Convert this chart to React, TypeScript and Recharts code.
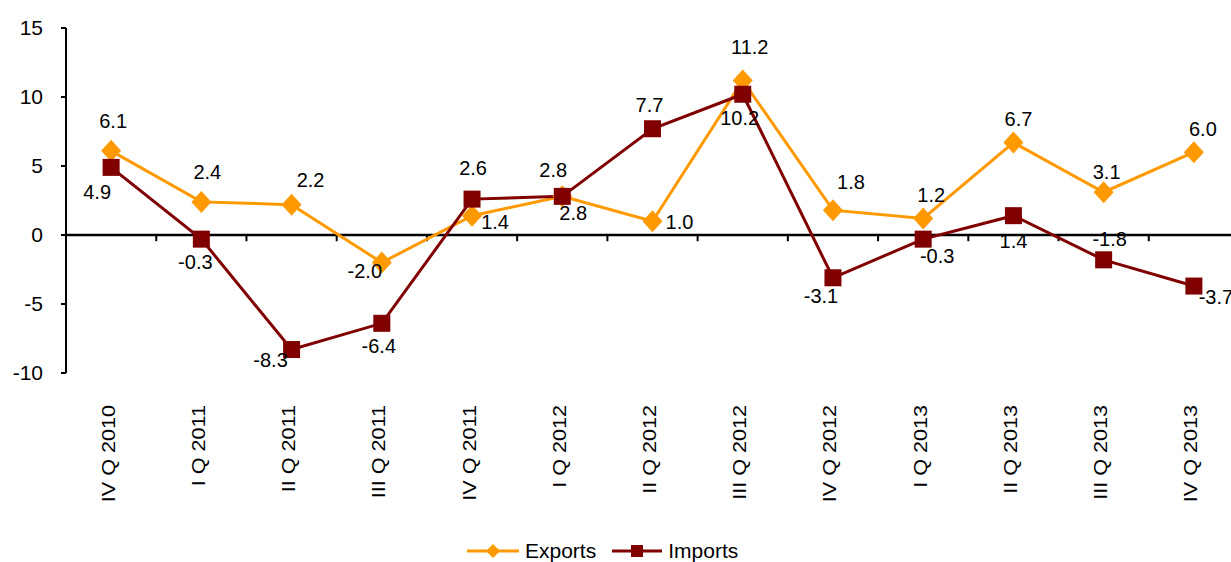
import React from "react";
import { LineChart, Line, XAxis, YAxis, ReferenceLine, LabelList, Legend } from "recharts";

const categories = [
  "IV Q 2010", "I Q 2011", "II Q 2011", "III Q 2011", "IV Q 2011", "I Q 2012",
  "II Q 2012", "III Q 2012", "IV Q 2012", "I Q 2013", "II Q 2013", "III Q 2013", "IV Q 2013",
];
const exportsValues = [6.1, 2.4, 2.2, -2.0, 1.4, 2.8, 1.0, 11.2, 1.8, 1.2, 6.7, 3.1, 6.0];
const importsValues = [4.9, -0.3, -8.3, -6.4, 2.6, 2.8, 7.7, 10.2, -3.1, -0.3, 1.4, -1.8, -3.7];
const yTicks = [-10, -5, 0, 5, 10, 15];

// label placement offsets (px) relative to each marker, style only
const exportsLabelOffsets = [[2, -30], [6, -30], [19, -25], [-17, 8], [23, 6], [11, 17], [27, 1], [7, -33], [18, -28], [8, -23], [5, -24], [3, -20], [9, -23]];
const importsLabelOffsets = [[-14, 25], [-6, 23], [-21, 10], [-3, 23], [1, -31], [-9, -26], [-3, -24], [-3, 24], [-12, 18], [14, 17], [0, 25], [6, -21], [22, 11]];

const data = categories.map((c, i) => ({ idx: i, name: c, Exports: exportsValues[i], Imports: importsValues[i] }));
const xTicks = categories.map((_, i) => i);
const boundaries = categories.slice(0, -1).map((_, i) => i + 0.5);

const ORANGE = "#FF9900";
const MAROON = "#800000";
const FONT = "'Liberation Sans', Arial, sans-serif";

const Diamond = (props: any) => {
  const { cx, cy, fill, w = 10, h = 11 } = props;
  if (cx == null || cy == null) return null;
  return <polygon points={`${cx},${cy - h} ${cx + w},${cy} ${cx},${cy + h} ${cx - w},${cy}`} fill={fill} />;
};
const Square = (props: any) => {
  const { cx, cy, fill, s = 17 } = props;
  if (cx == null || cy == null) return null;
  return <rect x={cx - s / 2} y={cy - s / 2} width={s} height={s} fill={fill} />;
};

const makeLabel = (offsets: number[][]) => (props: any) => {
  const { x, y, value, index } = props;
  const [dx, dy] = offsets[index] || [0, -20];
  return (
    <text x={x + dx} y={y + dy} textAnchor="middle" dominantBaseline="central" fontSize={20} fontFamily={FONT} fill="#000">
      {Number(value).toFixed(1)}
    </text>
  );
};

const CatTick = (props: any) => {
  const { x, y, payload } = props;
  return (
    <g transform={`translate(${x - 3},${y + 32})`}>
      <text transform="rotate(-90) scale(1.2,1)" x={0} y={0} dy="0.36em" textAnchor="end" fontSize={18} fontFamily={FONT} fill="#000">
        {categories[payload.value]}
      </text>
    </g>
  );
};

const LegendContent = () => (
  <div style={{ height: 24, display: "flex", alignItems: "center", fontFamily: FONT, fontSize: 21, color: "#000", whiteSpace: "nowrap" }}>
    <svg width={52} height={24}>
      <line x1={0} y1={12} x2={52} y2={12} stroke={ORANGE} strokeWidth={3} />
      <Diamond cx={26} cy={12} w={7} h={7} fill={ORANGE} />
    </svg>
    <span style={{ marginLeft: 6 }}>Exports</span>
    <svg width={50} height={24} style={{ marginLeft: 16 }}>
      <line x1={0} y1={12} x2={50} y2={12} stroke={MAROON} strokeWidth={3} />
      <Square cx={25} cy={12} s={12} fill={MAROON} />
    </svg>
    <span style={{ marginLeft: 6 }}>Imports</span>
  </div>
);

export default function App() {
  return (
    <div style={{ position: "fixed", left: 0, top: 0, width: 1231, height: 562, overflow: "hidden", background: "#fff" }}>
      <LineChart width={1240} height={562} data={data} margin={{ top: 28, right: 1, left: 0, bottom: 25 }}>
        <XAxis
          dataKey="idx"
          type="number"
          domain={[-0.5, 12.5]}
          ticks={xTicks}
          interval={0}
          axisLine={false}
          tickLine={false}
          tickSize={0}
          tickMargin={0}
          height={140}
          tick={<CatTick />}
        />
        <YAxis
          domain={[-10, 15]}
          ticks={yTicks}
          width={66}
          axisLine={{ stroke: "#000", strokeWidth: 2 }}
          tickLine={{ stroke: "#000", strokeWidth: 2 }}
          tickSize={5}
          tickMargin={18}
          tick={{ fill: "#000", fontSize: 21, fontFamily: FONT }}
          allowDataOverflow
        />
        <ReferenceLine y={0} stroke="#000" strokeWidth={2.5} ifOverflow="extendDomain" />
        {boundaries.map((b) => (
          <ReferenceLine key={b} segment={[{ x: b, y: 0 }, { x: b, y: -0.45 }]} stroke="#000" strokeWidth={2} />
        ))}
        <Legend
          verticalAlign="bottom"
          content={<LegendContent />}
          wrapperStyle={{ position: "absolute", left: 467, top: 539, bottom: "auto", width: 320, height: 24 }}
        />
        <Line
          dataKey="Exports"
          stroke={ORANGE}
          strokeWidth={3}
          isAnimationActive={false}
          dot={(p: any) => <Diamond key={`e${p.index}`} {...p} fill={ORANGE} />}
          activeDot={false}
        >
          <LabelList dataKey="Exports" content={makeLabel(exportsLabelOffsets)} />
        </Line>
        <Line
          dataKey="Imports"
          stroke={MAROON}
          strokeWidth={3}
          isAnimationActive={false}
          dot={(p: any) => <Square key={`i${p.index}`} {...p} fill={MAROON} />}
          activeDot={false}
        >
          <LabelList dataKey="Imports" content={makeLabel(importsLabelOffsets)} />
        </Line>
      </LineChart>
    </div>
  );
}
